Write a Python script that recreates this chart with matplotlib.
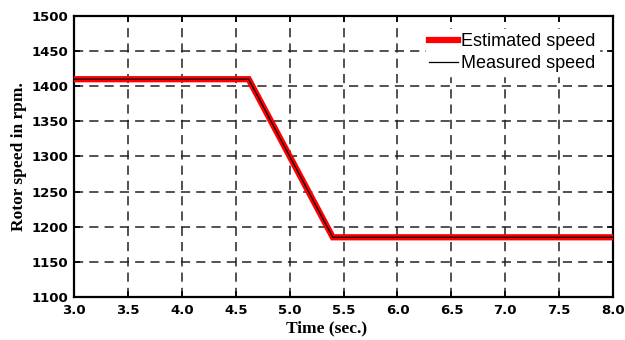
import matplotlib.pyplot as plt
import numpy as np

time_est = [3.0, 4.62, 5.40, 8.0]
speed_est = [1410, 1410, 1185, 1185]
time_meas = [3.0, 4.62, 5.40, 8.0]
speed_meas = [1410, 1410, 1185, 1185]

x_ticks = [3.0, 3.5, 4.0, 4.5, 5.0, 5.5, 6.0, 6.5, 7.0, 7.5, 8.0]
y_ticks = [1100, 1150, 1200, 1250, 1300, 1350, 1400, 1450, 1500]


def speed_plot():
    fig = plt.figure(figsize=(6.25, 3.4), dpi=100)
    ax = fig.add_axes([0.1184, 0.1265, 0.8626, 0.8265])

    ax.plot(time_est, speed_est, color="red", lw=4.5, label="Estimated speed",
            solid_joinstyle="miter", zorder=3)
    ax.plot(time_meas, speed_meas, color="black", lw=0.9, label="Measured speed",
            zorder=4)

    ax.set_xlim(3.0, 8.0)
    ax.set_ylim(1100, 1500)
    ax.set_xticks(x_ticks)
    ax.set_yticks(y_ticks)
    ax.set_xticklabels([f"{v:.1f}" for v in x_ticks])
    ax.set_yticklabels([str(v) for v in y_ticks])
    for lab in ax.get_xticklabels() + ax.get_yticklabels():
        lab.set_family("DejaVu Sans")
        lab.set_weight("bold")
        lab.set_size(9.5)
    ax.tick_params(direction="in", top=True, right=True, length=4, width=1.2,
                   color="black")
    ax.tick_params(axis="x", pad=5)
    ax.tick_params(axis="y", pad=4)

    ax.grid(True, color="#222222", lw=1.1, ls=(0, (6, 4)))
    for sp in ax.spines.values():
        sp.set_linewidth(1.6)
        sp.set_color("black")

    ax.set_ylabel("Rotor speed in rpm.", family="Liberation Serif",
                  weight="bold", size=12.5)
    ax.yaxis.set_label_coords(-0.088, 0.5)
    ax.set_xlabel("Time (sec.)", family="Liberation Serif", weight="bold",
                  size=12.5)
    ax.xaxis.set_label_coords(0.468, -0.083)

    leg = ax.legend(loc="upper right", bbox_to_anchor=(0.99, 0.985),
                    frameon=True, fancybox=False, edgecolor="white",
                    framealpha=1.0, handlelength=1.6, handletextpad=0.15,
                    borderpad=0.2, labelspacing=0.3,
                    prop={"family": "Liberation Sans", "size": 13})
    leg.set_zorder(5)

    fig.savefig("out.png", dpi=100)


if __name__ == "__main__":
    speed_plot()
